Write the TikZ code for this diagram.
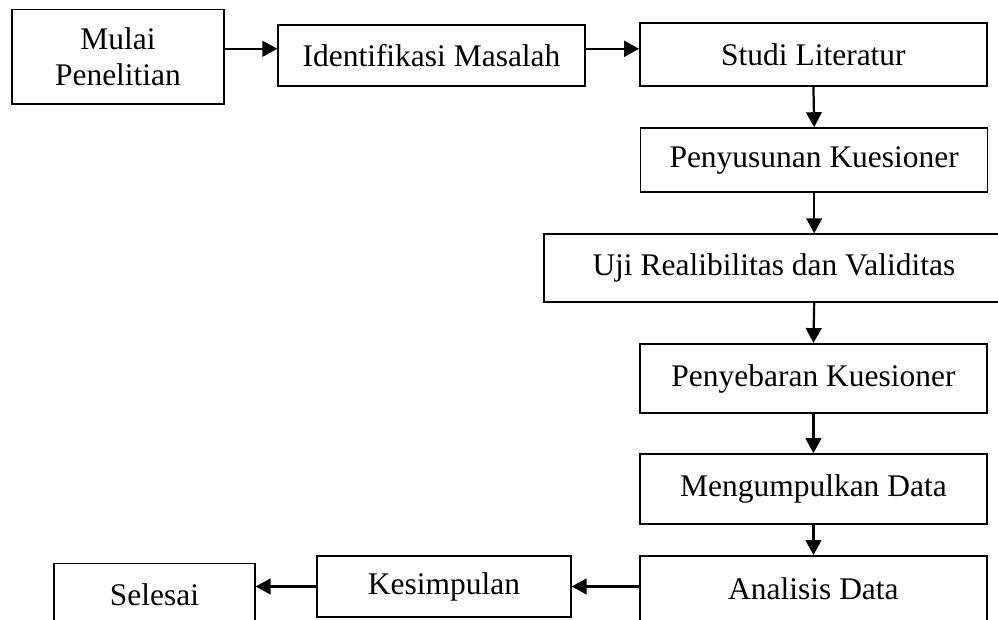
\documentclass[tikz,border=0pt]{standalone}
\usepackage{fontspec}
\setmainfont{Liberation Serif}
\usepackage{tikz}
\usetikzlibrary{arrows.meta,positioning,calc}

\begin{document}
\begin{tikzpicture}[
  font=\fontsize{12}{14}\selectfont,
  stepbox/.style={draw,line width=0.6pt,inner sep=0pt,align=center,
    minimum width=4.65cm,minimum height=0.86cm},
  arr/.style={line width=0.85pt,-{Triangle[length=0.2cm,width=0.21cm]}}
]
\useasboundingbox (0,0) rectangle (13.373,-8.308);
\clip (0,0) rectangle (13.373,-8.308);
% Top row: start -> problem -> literature
\node[stepbox,minimum width=2.84cm,minimum height=1.26cm] (mulai) at (1.581,-0.760) {Mulai\\Penelitian};
\node[stepbox,minimum width=4.11cm,minimum height=0.82cm] (ident) at (5.782,-0.744) {Identifikasi Masalah};
\node[stepbox,minimum height=0.84cm] (studi) at (10.90,-0.730) {Studi Literatur};
% Right column going down
\node[stepbox] (susun) at (10.91,-2.144) {Penyusunan Kuesioner};
\node[stepbox,minimum width=6.16cm,minimum height=0.91cm] (uji) at (10.37,-3.591) {Uji Realibilitas dan Validitas};
\node[stepbox,minimum height=0.93cm] (sebar) at (10.90,-5.072) {Penyebaran Kuesioner};
\node[stepbox,minimum height=0.94cm] (kumpul) at (10.90,-6.553) {Mengumpulkan Data};
\node[stepbox,minimum height=0.89cm] (analis) at (10.90,-7.893) {Analisis Data};
% Bottom row going left
\node[stepbox,minimum width=3.40cm,minimum height=0.82cm] (simpul) at (5.95,-7.859) {Kesimpulan};
\node[stepbox,minimum width=2.69cm,minimum height=0.84cm] (selesai) at (2.07,-7.973) {Selesai};

\draw[arr] ([yshift=0.09cm]ident.west -| mulai.east) -- ([yshift=0.09cm]ident.west);
\draw[arr] ([yshift=0.09cm]ident.east) -- ([yshift=0.09cm]ident.east -| studi.west);
\draw[arr] (studi.south) -- (susun.north);
\draw[arr] (susun.south) -- (susun.south |- uji.north);
\draw[arr] (susun.south |- uji.south) -- (sebar.north);
\draw[arr] (sebar.south) -- (kumpul.north);
\draw[arr] (kumpul.south) -- (analis.north);
\draw[arr] (simpul.east -| analis.west) -- (simpul.east);
\draw[arr] (simpul.west) -- (simpul.west -| selesai.east);
\end{tikzpicture}
\end{document}
